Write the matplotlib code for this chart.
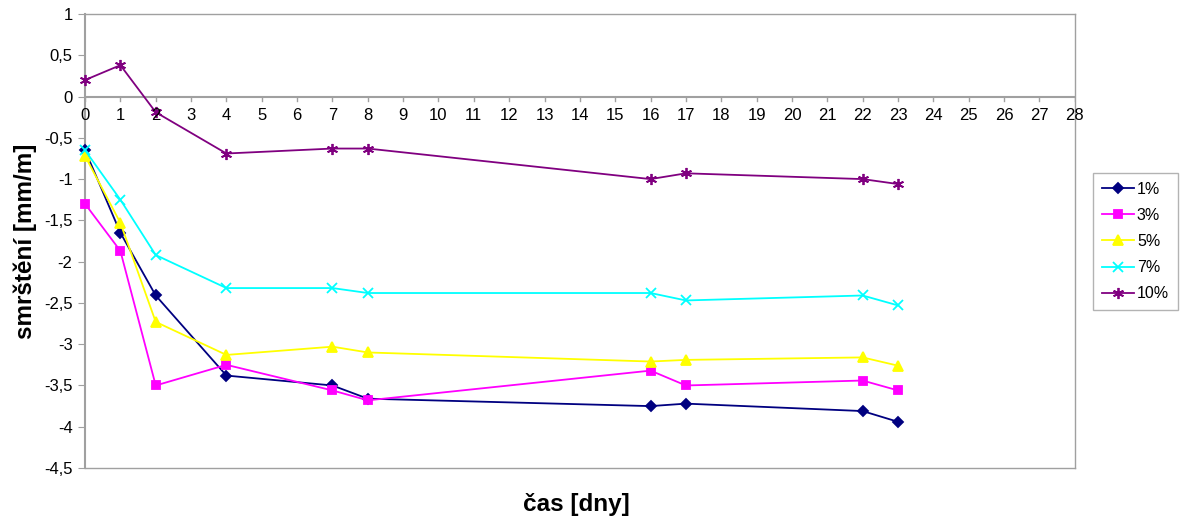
import numpy as np
import matplotlib.pyplot as plt
from matplotlib.ticker import FuncFormatter

plt.rcParams['font.family'] = ['Liberation Sans', 'DejaVu Sans']

days = [0, 1, 2, 4, 7, 8, 16, 17, 22, 23]

s1 = [-0.65, -1.65, -2.41, -3.38, -3.50, -3.66, -3.75, -3.72, -3.81, -3.94]
s3 = [-1.30, -1.87, -3.50, -3.25, -3.56, -3.68, -3.32, -3.50, -3.44, -3.56]
s5 = [-0.72, -1.53, -2.73, -3.13, -3.03, -3.10, -3.21, -3.19, -3.16, -3.26]
s7 = [-0.65, -1.25, -1.92, -2.32, -2.32, -2.38, -2.38, -2.47, -2.41, -2.53]
s10 = [0.20, 0.38, -0.19, -0.69, -0.63, -0.63, -1.00, -0.93, -1.00, -1.06]

labels = ['1%', '3%', '5%', '7%', '10%']
colors = ['#000080', '#FF00FF', '#FFFF00', '#00FFFF', '#800080']
markers = ['D', 's', '^', 'x', (6, 2, 0)]
sizes = [5, 6, 7, 7, 8]

fig = plt.figure(figsize=(11.81, 5.22), dpi=100)
ax = fig.add_axes([0.072, 0.1034, 0.838, 0.8698])

for ys, lab, c, m, ms in zip([s1, s3, s5, s7, s10], labels, colors, markers, sizes):
    ax.plot(days, ys, color=c, marker=m, markersize=ms, linewidth=1.3,
            markeredgewidth=1.3, label=lab, clip_on=False, zorder=3)

ax.set_xlim(0, 28)
ax.set_ylim(-4.5, 1)
ax.set_xticks(range(0, 29))
ax.set_yticks(np.arange(-4.5, 1.01, 0.5))
ax.yaxis.set_major_formatter(FuncFormatter(lambda v, p: ('%g' % v).replace('.', ',')))

for sp in ['top', 'right', 'bottom']:
    ax.spines[sp].set_color('#a0a0a0')
    ax.spines[sp].set_linewidth(1)
ax.spines['left'].set_color('#a0a0a0')
ax.spines['left'].set_linewidth(1.5)

# x axis drawn at y = 0
ax.axhline(0, color='#a0a0a0', linewidth=1.5, zorder=1)
ax.tick_params(axis='y', direction='out', length=5, color='#a0a0a0',
               labelsize=12, pad=4)
ax.xaxis.set_ticks_position('none')
ax.set_xticklabels([])
for x in range(0, 29):
    ax.plot([x, x], [0, -0.06], color='#a0a0a0', linewidth=1, zorder=1)
    ax.text(x, -0.14, str(x), ha='center', va='top', fontsize=12)

ax.set_ylabel('smrštění [mm/m]', fontsize=17.5, fontweight='bold', labelpad=5)
fig.text(0.488, 0.033, 'čas [dny]', ha='center', va='center',
         fontsize=17.5, fontweight='bold')

leg = fig.legend(loc='upper left', bbox_to_anchor=(0.9255, 0.669), fontsize=11.5,
                 frameon=True, fancybox=False, edgecolor='#a0a0a0',
                 handlelength=2.0, labelspacing=0.7, borderpad=0.55,
                 handletextpad=0.2, borderaxespad=0)
leg.get_frame().set_linewidth(1)

fig.savefig('out.png', dpi=100)
